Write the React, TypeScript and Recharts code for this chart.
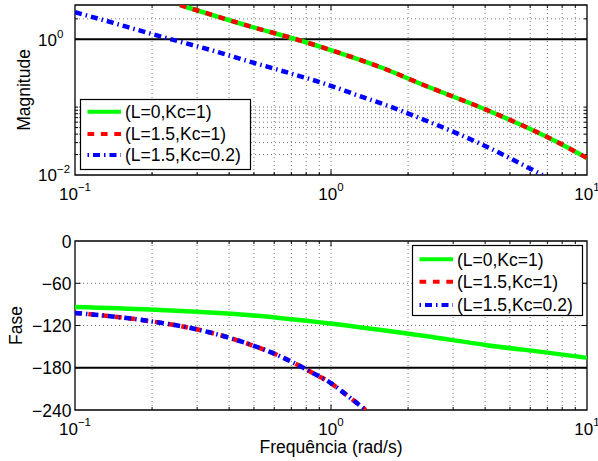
import React from 'react';
import { LineChart, Line, XAxis, YAxis, ReferenceLine, ReferenceArea } from 'recharts';

const FONT = '"Liberation Sans", Arial, Helvetica, sans-serif';

// Magnitude (log-log)
const magFreqKc1 = [0.257, 0.483, 0.73, 0.991, 1.6, 2.3, 4.06, 7.38, 10];
const magKc1 = [3.2, 1.55, 1.0, 0.7, 0.374, 0.212, 0.0908, 0.0328, 0.0178];
const magFreqKc02 = [0.1, 0.129, 0.196, 0.257, 0.337, 0.454, 0.691, 0.933, 1.26, 1.7, 2.23, 3.82, 6.35, 6.7];
const magKc02 = [2.5, 1.92, 1.22, 0.92, 0.7, 0.5, 0.316, 0.225, 0.151, 0.102, 0.0686, 0.0291, 0.0111, 0.01];

// Fase (graus)
const phaseFreqL0 = [0.1, 0.196, 0.299, 0.483, 0.991, 2.33, 4.06, 7.38, 10];
const phaseL0 = [-93.6, -97.2, -100.6, -105.3, -117.1, -135, -147.9, -159.6, -165.9];
const phaseFreqL15 = [0.1, 0.196, 0.299, 0.391, 0.483, 0.578, 0.691, 0.78, 0.879, 0.991, 1.15, 1.34, 1.365];
const phaseL15 = [-102.1, -113.8, -125.4, -136.3, -147, -157.5, -170.3, -180, -190.4, -201, -218.7, -237.6, -240];

const xMajor = [0.1, 1, 10];
const xMinor = [0.2, 0.3, 0.4, 0.5, 0.6, 0.7, 0.8, 0.9, 2, 3, 4, 5, 6, 7, 8, 9];
const magTicks = [0.01, 1];
const magMinor = [0.02, 0.03, 0.04, 0.05, 0.06, 0.07, 0.08, 0.09, 0.1, 2];
const phaseTicks = [-240, -180, -120, -60, 0];
const phaseGrid = [-120, -60];

const series = [
  { name: '(L=0,Kc=1)', color: '#00ff00', dash: undefined as string | undefined, offset: 0 },
  { name: '(L=1.5,Kc=1)', color: '#ff0000', dash: '6.7 6.7', offset: 0 },
  { name: '(L=1.5,Kc=0.2)', color: '#0000ff', dash: '7 4 1.5 4', offset: 11 },
];

const toPts = (xs: number[], ys: number[]) => xs.map((x, i) => ({ x, y: ys[i] }));

// grid line + inward tick marks on both sides of the box
const vMark = (grid: boolean, len: number) => (p: any) => {
  const top = Math.min(p.y1, p.y2);
  const bot = Math.max(p.y1, p.y2);
  return (
    <g>
      {grid && <line x1={p.x1} x2={p.x1} y1={top} y2={bot} stroke="#555" strokeWidth={0.8} strokeDasharray="1 3" />}
      <line x1={p.x1} x2={p.x1} y1={bot} y2={bot - len} stroke="#000" strokeWidth={1} />
      <line x1={p.x1} x2={p.x1} y1={top} y2={top + len} stroke="#000" strokeWidth={1} />
    </g>
  );
};

const hMark = (grid: boolean, len: number) => (p: any) => {
  const l = Math.min(p.x1, p.x2);
  const r = Math.max(p.x1, p.x2);
  return (
    <g>
      {grid && <line x1={l} x2={r} y1={p.y1} y2={p.y1} stroke="#555" strokeWidth={0.8} strokeDasharray="1 3" />}
      <line x1={l} x2={l + len} y1={p.y1} y2={p.y1} stroke="#000" strokeWidth={1} />
      <line x1={r} x2={r - len} y1={p.y1} y2={p.y1} stroke="#000" strokeWidth={1} />
    </g>
  );
};

const sup = (e: number) => (e < 0 ? '\u2212' + -e : String(e));

const XPowTick = (props: any) => {
  const { x, y, payload } = props;
  const e = Math.round(Math.log10(payload.value));
  return (
    <text x={x} y={y + 25} textAnchor="middle" fontSize={17} fill="#000" fontFamily={FONT}>
      10<tspan dy={-9} fontSize={11.5}>{sup(e)}</tspan>
    </text>
  );
};

const YPowTick = (props: any) => {
  const { x, y, payload } = props;
  const e = Math.round(Math.log10(payload.value));
  return (
    <text x={x - 37} y={y + 6.4} textAnchor="start" fontSize={17} fill="#000" fontFamily={FONT}>
      10<tspan dy={-8} fontSize={11.5}>{sup(e)}</tspan>
    </text>
  );
};

const PhaseTick = (props: any) => {
  const { x, y, payload } = props;
  const v = payload.value;
  return (
    <text x={x - 3.5} y={y + 6.5} textAnchor="end" fontSize={17.5} fill="#000" fontFamily={FONT}>
      {v < 0 ? '\u2212' + -v : String(v)}
    </text>
  );
};

function LegendBox({ left, top, rows }: { left: number; top: number; rows: number[] }) {
  return (
    <svg width={171} height={72} style={{ position: 'absolute', left, top, overflow: 'visible' }}>
      <rect x={0.5} y={0.5} width={170} height={70} fill="#fff" stroke="#000" strokeWidth={1.2} />
      {series.map((s, i) => (
        <g key={s.name}>
          <line
            x1={7.5}
            x2={41}
            y1={rows[i]}
            y2={rows[i]}
            stroke={s.color}
            strokeWidth={4}
            strokeDasharray={s.dash}
            strokeDashoffset={s.offset}
          />
          <text x={45} y={rows[i] + 6.3} fontSize={17.5} fontFamily={FONT} fill="#000">
            {s.name}
          </text>
        </g>
      ))}
    </svg>
  );
}

export default function App() {
  const magA = toPts(magFreqKc1, magKc1);
  const magB = toPts(magFreqKc02, magKc02);
  const phA = toPts(phaseFreqL0, phaseL0);
  const phB = toPts(phaseFreqL15, phaseL15);

  const xAxis = (height: number) => (
    <XAxis
      type="number"
      dataKey="x"
      scale="log"
      domain={[0.1, 10]}
      ticks={xMajor}
      allowDataOverflow
      axisLine={false}
      tickLine={false}
      tickSize={0}
      tickMargin={0}
      height={height}
      tick={(p: any) => <XPowTick {...p} />}
    />
  );

  const xMarks = [
    ...xMinor.map((v) => <ReferenceLine key={'mn' + v} x={v} shape={vMark(true, 3)} />),
    <ReferenceLine key="mj1" x={1} shape={vMark(true, 5.5)} />,
  ];

  return (
    <div style={{ position: 'absolute', left: 0, top: 0, width: 598, height: 461, background: '#fff', fontFamily: FONT }}>
      <div style={{ position: 'absolute', left: 0, top: 0 }}>
        <LineChart width={598} height={210} margin={{ top: 5, right: 11, left: 0, bottom: 0 }}>
          {xAxis(35)}
          <YAxis
            type="number"
            scale="log"
            domain={[0.01, 3.2]}
            ticks={magTicks}
            allowDataOverflow
            axisLine={false}
            tickLine={false}
            tickSize={0}
            tickMargin={0}
            width={75}
            tick={(p: any) => <YPowTick {...p} />}
          />
          {xMarks}
          {magMinor.map((v) => (
            <ReferenceLine key={'my' + v} y={v} shape={hMark(true, 3)} />
          ))}
          <ReferenceLine y={1} shape={hMark(false, 5.5)} />
          <ReferenceLine y={1} stroke="#000" strokeWidth={2} />
          <ReferenceArea x1={0.1} x2={10} y1={0.01} y2={3.2} fill="none" stroke="#000" strokeWidth={1.3} />
          <Line data={magA} dataKey="y" type="monotone" stroke={series[0].color} strokeWidth={4.5} dot={false} isAnimationActive={false} />
          <Line data={magA} dataKey="y" type="monotone" stroke={series[1].color} strokeWidth={4.5} strokeDasharray={series[1].dash} dot={false} isAnimationActive={false} />
          <Line data={magB} dataKey="y" type="monotone" stroke={series[2].color} strokeWidth={4.5} strokeDasharray={series[2].dash} dot={false} isAnimationActive={false} />
        </LineChart>
      </div>
      <div style={{ position: 'absolute', left: 0, top: 210 }}>
        <LineChart width={598} height={251} margin={{ top: 31, right: 11, left: 0, bottom: 0 }}>
          {xAxis(51)}
          <YAxis
            type="number"
            domain={[-240, 0]}
            ticks={phaseTicks}
            allowDataOverflow
            axisLine={false}
            tickLine={false}
            tickSize={0}
            tickMargin={0}
            width={75}
            tick={(p: any) => <PhaseTick {...p} />}
          />
          {xMarks}
          {phaseGrid.map((v) => (
            <ReferenceLine key={'py' + v} y={v} shape={hMark(true, 5.5)} />
          ))}
          <ReferenceLine y={-180} shape={hMark(false, 5.5)} />
          <ReferenceLine y={-180} stroke="#000" strokeWidth={2} />
          <ReferenceArea x1={0.1} x2={10} y1={-240} y2={0} fill="none" stroke="#000" strokeWidth={1.3} />
          <Line data={phA} dataKey="y" type="monotone" stroke={series[0].color} strokeWidth={4.5} dot={false} isAnimationActive={false} />
          <Line data={phB} dataKey="y" type="monotone" stroke={series[1].color} strokeWidth={4.5} strokeDasharray={series[1].dash} dot={false} isAnimationActive={false} />
          <Line data={phB} dataKey="y" type="monotone" stroke={series[2].color} strokeWidth={4.5} strokeDasharray={series[2].dash} dot={false} isAnimationActive={false} />
        </LineChart>
      </div>
      <LegendBox left={80} top={99} rows={[12.7, 35, 56]} />
      <LegendBox left={411.5} top={245} rows={[14.3, 36.7, 60]} />
      <svg width={598} height={461} style={{ position: 'absolute', left: 0, top: 0, pointerEvents: 'none' }}>
        <text x={24} y={90} transform="rotate(-90 24 90)" textAnchor="middle" dominantBaseline="central" fontSize={17.5} fontFamily={FONT} fill="#000">
          Magnitude
        </text>
        <text x={16} y={325.5} transform="rotate(-90 16 325.5)" textAnchor="middle" dominantBaseline="central" fontSize={17.5} fontFamily={FONT} fill="#000">
          Fase
        </text>
        <text x={331} y={453} textAnchor="middle" fontSize={17.5} fontFamily={FONT} fill="#000">
          Frequência (rad/s)
        </text>
      </svg>
    </div>
  );
}
